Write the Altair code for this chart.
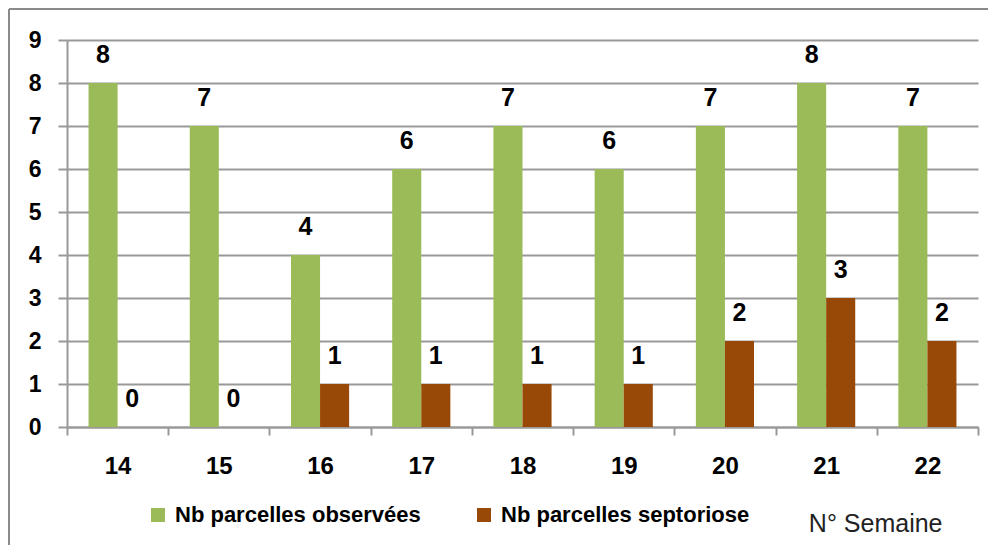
import altair as alt
import pandas as pd

weeks = ["14", "15", "16", "17", "18", "19", "20", "21", "22"]
observees = [8, 7, 4, 6, 7, 6, 7, 8, 7]
septoriose = [0, 0, 1, 1, 1, 1, 2, 3, 2]
series_names = ["Nb parcelles observées", "Nb parcelles septoriose"]
series_colors = ["#9BBB59", "#984807"]
y_ticks = list(range(0, 10))

rows = []
for w, a, b in zip(weeks, observees, septoriose):
    rows.append({"week": w, "series": series_names[0], "value": a})
    rows.append({"week": w, "series": series_names[1], "value": b})
df = pd.DataFrame(rows)

FONT = "Liberation Sans"
GRID = "#999999"

x_scale = alt.Scale(paddingInner=0, paddingOuter=0)
xoff_scale = alt.Scale(paddingInner=0, paddingOuter=0.741)

x_enc = alt.X(
    "week:N",
    sort=weeks,
    scale=x_scale,
    axis=alt.Axis(
        title="N° Semaine",
        titleFont=FONT,
        titleFontSize=25,
        titleFontWeight="normal",
        titleColor="#222222",
        titleX=875,
        titleY=104,
        titleAlign="right",
        titleBaseline="alphabetic",
        titleAnchor="end",
        labelAngle=0,
        labelFont=FONT,
        labelFontSize=24,
        labelFontWeight="bold",
        labelColor="#000000",
        labelPadding=19,
        tickBand="extent",
        tickSize=8,
        tickColor=GRID,
        tickWidth=2,
        domainColor=GRID,
        domainWidth=2,
        grid=False,
    ),
)
xoff_enc = alt.XOffset("series:N", sort=series_names, scale=xoff_scale)
y_scale = alt.Scale(domain=[0, 9], nice=False)

bars = alt.Chart(df).mark_bar().encode(
    x=x_enc,
    xOffset=xoff_enc,
    y=alt.Y(
        "value:Q",
        scale=y_scale,
        axis=alt.Axis(
            title=None,
            values=y_ticks,
            grid=True,
            gridColor=GRID,
            gridWidth=2,
            tickSize=9,
            tickColor=GRID,
            tickWidth=2,
            domainColor=GRID,
            domainWidth=2,
            labelFont=FONT,
            labelFontSize=23,
            labelFontWeight="bold",
            labelColor="#000000",
            labelPadding=17,
        ),
    ),
    color=alt.Color(
        "series:N",
        sort=series_names,
        scale=alt.Scale(domain=series_names, range=series_colors),
        legend=alt.Legend(
            title=None,
            orient="none",
            legendX=80,
            legendY=464,
            direction="horizontal",
            symbolType="square",
            symbolSize=196,
            symbolStrokeWidth=0,
            labelFont=FONT,
            labelFontSize=22,
            labelFontWeight="bold",
            labelColor="#000000",
            labelLimit=400,
            labelOffset=6,
            columnPadding=52,
            padding=0,
        ),
    ),
)

labels = alt.Chart(df).mark_text(
    font=FONT, fontSize=25, fontWeight="bold", color="#000000",
    baseline="alphabetic", dy=-20
).encode(
    x=alt.X("week:N", sort=weeks, scale=x_scale),
    xOffset=alt.XOffset("series:N", sort=series_names, scale=xoff_scale),
    y=alt.Y("value:Q", scale=y_scale),
    text="value:Q",
)

border_left = alt.Chart().mark_rule(color="#8a8a8a", strokeWidth=2, clip=False).encode(
    x=alt.value(-58), y=alt.value(-31), y2=alt.value(560)
)
border_top = alt.Chart().mark_rule(color="#8a8a8a", strokeWidth=2, clip=False).encode(
    x=alt.value(-58), x2=alt.value(930), y=alt.value(-31)
)

chart = alt.layer(bars, labels, border_left, border_top).properties(
    width=911,
    height=387,
    autosize=alt.AutoSizeParams(type="none"),
    padding={"left": 59, "top": 32, "right": 10, "bottom": 118},
).configure_view(stroke=None)

chart.save("out.html", embed_options={"renderer": "svg", "actions": False})
